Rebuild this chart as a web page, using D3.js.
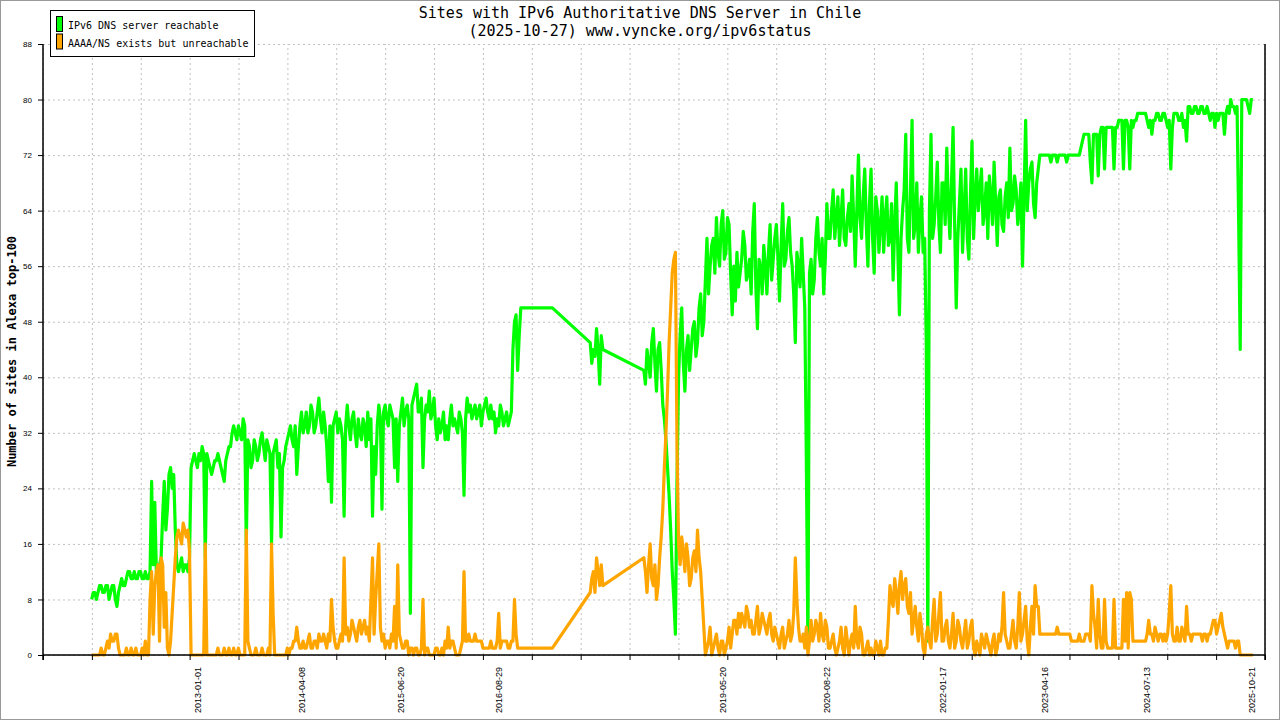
<!DOCTYPE html>
<html>
<head>
<meta charset="utf-8">
<script src="https://cdn.jsdelivr.net/npm/d3@7"></script>
<style>
  body { margin: 0; background: #fff; }
  svg { display: block; }
  .mono { font-family: "DejaVu Sans Mono", "Liberation Mono", monospace; }
  .grid line { stroke: #c0c0c0; stroke-dasharray: 2,3; }
  .grid path { display: none; }
</style>
</head>
<body>
<div id="chart"></div>
<script>
// one sample every 7 days from startDate, null = no measurement (line just joins across)
var startDate = "2011-09-19";
var stepDays = 7;

var reachable = [
  8,9, 9,8, 9,10, 10,9, 9,10, 10,8, 9,10, 10,8, 7,9, 10,11,
  10,10, 11,12, 12,11, 11,12, 11,11, 12,12, 11,11, 12,11, 11,12, 25,13,
  22,12, 11,13, 14,20, 25,18, 21,26, 27,24, 26,18, 13,12, 13,14, 12,13,
  13,12, 14,27, 28,29, 28,27, 29,28, 30,29, 14,29, 28,27, 26,27, 28,28,
  29,28, 27,26, 25,28, 29,30, 30,32, 33,32, 31,33, 32,31, 34,33, 16,31,
  30,27, 28,31, 30,28, 29,31, 32,30, 28,31, 30,29, 16,29, 30,31, 27,29,
  17,27, 28,30, 31,32, 33,31, 30,33, 26,30, 33,35, 32,33, 35,32, 33,36,
  35,32, 33,35, 37,34, 32,35, 33,30, 25,33, 22,33, 34,35, 32,34, 33,31,
  20,33, 36,33, 31,34, 35,32, 30,34, 32,31, 34,33, 30,35, 31,34, 20,30,
  26,33, 36,34, 21,35, 36,34, 33,36, 35,34, 27,34, 25,33, 35,37, 33,35,
  36,34, 6,36, 37,38, 39,35, 35,37, 27,34, 36,35, 38,34, 35,37, 33,31,
  34,32, 33,35, 31,33, 31,34, 36,33, 34,33, 32,35, 34,32, 23,34, 37,35,
  36,34, 35,36, 34,35, 36,33, 35,36, 37,35, 34,36, 34,35, 32,34, 33,36,
  35,33, 34,35, 33,34, 35,44, 48,49, 41,46, 50,null, null,null, null,null, null,null,
  null,null, null,null, null,null, null,null, null,null, null,null, 50,null, null,null, null,null, null,null,
  null,null, null,null, null,null, null,null, null,null, null,null, null,null, null,null, 45,42, 44,43,
  47,44, 39,46, 44,null, null,null, null,null, null,null, null,null, null,null, null,null, null,null,
  null,null, null,null, null,null, null,null, null,null, 41,39, 44,42, 40,45, 47,42, 38,44,
  45,41, 36,34, 31,27, 23,18, 12,8, 3,25, 40,46, 50,42, 38,44, 46,41,
  44,47, 48,43, 45,50, 52,46, 48,54, 60,52, 56,59, 60,55, 63,58, 56,62,
  64,57, 58,63, 62,55, 49,56, 51,58, 53,55, 57,61, 59,54, 55,57, 52,61,
  65,53, 47,57, 56,52, 59,56, 52,58, 62,54, 57,60, 62,57, 51,59, 65,56,
  57,61, 63,58, 56,52, 45,58, 56,53, 60,55, 50,28, 1,55, 57,52, 54,60,
  63,58, 56,60, 52,57, 65,60, 60,64, 67,60, 63,66, 59,63, 67,60, 59,63,
  65,61, 69,63, 56,64, 72,63, 60,66, 70,62, 56,65, 70,60, 55,66, 64,58,
  62,66, 58,63, 66,59, 60,65, 54,62, 68,58, 49,60, 64,67, 75,60, 58,67,
  77,60, 62,68, 58,63, 66,58, 60,45, 2,64, 75,60, 62,66, 71,62, 58,68,
  68,62, 73,65, 60,68, 76,62, 50,60, 65,70, 58,64, 70,60, 57,66, 74,60,
  66,70, 64,67, 70,62, 64,68, 60,69, 66,62, 71,65, 59,66, 67,62, 61,66,
  68,63, 73,64, 65,69, 67,62, 64,68, 56,66, 77,64, 68,70, 71,65, 63,68,
  70,72, 72,72, 72,72, 72,72, 71,72, 72,72, 71,72, 72,72, 72,72, 71,72,
  72,72, 72,72, 72,72, 72,73, 74,75, 75,75, 75,71, 68,75, 75,75, 69,75,
  76,76, 70,76, 76,76, 76,76, 70,76, 76,77, 77,77, 70,77, 77,76, 70,77,
  76,77, 77,78, 78,78, 78,78, 78,77, 76,77, 75,77, 77,78, 78,77, 77,78,
  78,77, 76,77, 70,76, 78,78, 78,77, 77,78, 76,77, 74,79, 79,78, 78,79,
  79,78, 78,79, 79,78, 78,79, 78,77, 78,78, 76,78, 77,78, 78,78, 75,78,
  79,78, 80,79, 79,78, 79,63, 44,80, 80,80, 80,79, 78,80, 80
];

var unreachable = [
  0,0, 0,0, 0,0, 1,0, 0,1, 2,1, 3,2, 2,3, 3,1, 0,0,
  0,0, 1,0, 0,1, 0,0, 1,0, 0,0, 1,0, 2,0, 0,8, 12,3,
  10,12, 13,2, 14,13, 4,9, 1,0, 2,6, 10,14, 17,18, 17,16, 19,18,
  17,18, 15,0, 0,0, 0,0, 0,0, 0,0, 16,0, 0,0, 0,0, 0,0,
  1,0, 0,0, 1,0, 0,1, 0,0, 1,0, 0,1, 0,0, 0,0, 18,2,
  1,0, 0,0, 1,0, 0,0, 1,0, 0,0, 1,0, 16,6, 0,0, 0,0,
  0,0, 0,0, 1,0, 1,1, 2,2, 4,2, 1,1, 2,1, 1,2, 3,1,
  1,2, 2,1, 3,2, 2,3, 2,1, 3,2, 8,4, 2,1, 1,2, 3,2,
  14,3, 4,2, 3,5, 4,3, 2,4, 5,3, 4,5, 3,4, 2,8, 14,3,
  8,12, 16,4, 2,3, 1,2, 2,1, 3,2, 7,1, 13,3, 2,1, 1,2,
  2,0, 1,1, 0,1, 1,0, 0,1, 8,0, 1,1, 0,0, 0,0, 1,1,
  0,0, 1,0, 2,1, 4,1, 2,2, 1,0, 0,0, 1,2, 12,2, 2,3,
  2,2, 2,3, 2,2, 2,2, 1,1, 1,1, 1,2, 1,1, 1,2, 6,1,
  2,2, 2,2, 1,1, 2,2, 8,3, 1,1, 1,null, null,null, null,null, null,null,
  null,null, null,null, null,null, null,null, null,null, null,null, 1,null, null,null, null,null, null,null,
  null,null, null,null, null,null, null,null, null,null, null,null, null,null, null,null, 9,11, 12,9,
  14,12, 10,13, 10,null, null,null, null,null, null,null, null,null, null,null, null,null, null,null,
  null,null, null,null, null,null, null,null, null,null, 14,12, 9,13, 16,11, 10,13, 8,10,
  14,17, 21,27, 32,38, 45,50, 55,57, 58,30, 16,13, 17,15, 12,16, 14,10,
  11,14, 15,12, 18,14, 12,8, 4,0, 1,2, 4,0, 1,2, 3,1, 0,2,
  2,0, 1,2, 4,1, 3,5, 5,3, 6,4, 6,5, 4,7, 6,4, 5,3,
  3,5, 7,3, 4,6, 5,4, 3,5, 6,3, 2,4, 3,2, 1,3, 4,1,
  2,3, 5,2, 3,6, 14,8, 4,2, 2,3, 1,4, 0,2, 5,2, 3,5,
  4,2, 6,3, 2,5, 4,1, 1,2, 3,1, 0,1, 2,4, 1,0, 4,2,
  0,2, 3,1, 7,2, 1,4, 3,0, 0,1, 2,0, 1,0, 0,2, 1,0,
  2,0, 0,1, 1,5, 10,8, 7,11, 9,6, 10,12, 8,10, 11,7, 6,9,
  3,5, 7,4, 2,6, 4,1, 0,3, 4,2, 1,5, 8,2, 3,6, 9,2,
  2,4, 5,2, 1,3, 6,1, 2,5, 4,2, 1,3, 5,1, 2,4, 5,1,
  0,2, 1,0, 3,2, 1,3, 2,1, 0,2, 3,0, 1,3, 2,4, 9,3,
  2,1, 1,3, 5,2, 1,4, 9,2, 3,5, 7,2, 0,4, 7,3, 10,7,
  7,3, 3,3, 3,3, 3,3, 3,3, 3,3, 4,3, 3,3, 3,3, 3,3,
  3,2, 2,2, 2,2, 3,2, 2,2, 3,3, 3,2, 10,6, 4,1, 8,3,
  1,1, 8,2, 1,1, 1,1, 8,1, 1,1, 1,1, 8,2, 9,1, 9,8,
  2,2, 2,2, 2,2, 2,2, 2,3, 5,3, 3,2, 4,3, 2,3, 3,2,
  3,2, 3,6, 10,3, 2,2, 4,2, 2,4, 3,2, 7,3, 3,2, 3,3,
  3,3, 3,3, 2,3, 3,2, 3,3, 4,5, 5,3, 4,5, 6,4, 3,2,
  1,2, 2,2, 2,1, 2,2, 0,0, 0,0, 0,0, 0,0, 0
];

var xLabelDates = ["2013-01-01", "2014-04-08", "2015-06-20", "2016-08-29", "2019-05-20",
                   "2020-08-22", "2022-01-17", "2023-04-16", "2024-07-13", "2025-10-21"];
var xDomain = ["2011-02-15", "2025-12-20"];
var yTicks = [0, 8, 16, 24, 32, 40, 48, 56, 64, 72, 80, 88];

var seriesNames = ["IPv6 DNS server reachable", "AAAA/NS exists but unreachable"];
var colors = ["#00ff00", "#ffa500"];

var titleLines = ["Sites with IPv6 Authoritative DNS Server in Chile",
                  "(2025-10-27) www.vyncke.org/ipv6status"];
var yTitle = "Number of sites in Alexa top-100";

var W = 1280, H = 720;
var plot = {left: 43, right: 1265, top: 44, bottom: 655};

var parse = d3.utcParse("%Y-%m-%d");

var svg = d3.select("#chart").append("svg")
    .attr("width", W)
    .attr("height", H)
    .attr("class", "mono");

svg.append("rect")
    .attr("x", 0.5).attr("y", 0.5)
    .attr("width", W - 1).attr("height", H - 1)
    .attr("fill", "#fff")
    .attr("stroke", "#999");

var x = d3.scaleUtc()
    .domain(xDomain.map(parse))
    .range([plot.left, plot.right]);

var y = d3.scaleLinear()
    .domain([0, 88])
    .range([plot.bottom, plot.top]);

// plain ticks: domain cut in 25 equal steps
var d0 = x.domain()[0], d1 = x.domain()[1];
var plainTicks = d3.range(26).map(function(k) { return new Date(+d0 + k * (d1 - d0) / 25); });

// grid
svg.append("g")
    .attr("class", "grid")
    .attr("transform", "translate(0," + plot.bottom + ")")
    .call(d3.axisBottom(x).tickValues(plainTicks).tickFormat("")
        .tickSizeInner(-(plot.bottom - plot.top)).tickSizeOuter(0));

svg.append("g")
    .attr("class", "grid")
    .attr("transform", "translate(" + plot.left + ",0)")
    .call(d3.axisLeft(y).tickValues(yTicks).tickFormat("")
        .tickSizeInner(-(plot.right - plot.left)).tickSizeOuter(0));

// data
function toPoints(values) {
    var start = parse(startDate);
    return values
        .map(function(v, i) { return {date: d3.utcDay.offset(start, i * stepDays), v: v}; })
        .filter(function(d) { return d.v !== null; });
}

var line_gen = d3.line()
    .x(function(d) { return x(d.date); })
    .y(function(d) { return y(d.v); });

[reachable, unreachable].forEach(function(values, i) {
    svg.append("path")
        .attr("d", line_gen(toPoints(values)))
        .attr("fill", "none")
        .attr("stroke", colors[i])
        .attr("stroke-width", 3.2)
        .attr("stroke-linejoin", "round");
});

// axes
var yAxis = svg.append("g")
    .attr("transform", "translate(" + plot.left + ",0)")
    .call(d3.axisLeft(y).tickValues(yTicks).tickSizeInner(5).tickSizeOuter(0).tickPadding(6));
yAxis.select(".domain").remove();
yAxis.selectAll("text").attr("font-size", 8).attr("font-family", null);
yAxis.selectAll("line").attr("stroke", "#000");

var xAxis = svg.append("g")
    .attr("transform", "translate(0," + plot.bottom + ")")
    .call(d3.axisBottom(x).tickValues(plainTicks).tickFormat("").tickSizeInner(5).tickSizeOuter(0));
xAxis.select(".domain").remove();

var xLabels = svg.append("g")
    .attr("transform", "translate(0," + plot.bottom + ")")
    .call(d3.axisBottom(x).tickValues(xLabelDates.map(parse)).tickSize(0)
        .tickFormat(d3.utcFormat("%Y-%m-%d")));
xLabels.select(".domain").remove();
xLabels.selectAll("text")
    .attr("font-size", 9)
    .attr("font-family", null)
    .attr("text-anchor", "end")
    .attr("dy", "0.35em")
    .attr("y", 0)
    .attr("transform", "translate(0,12) rotate(-90)");

// frame: left, bottom, right
svg.append("path")
    .attr("d", "M" + plot.left + "," + plot.top + "V" + (plot.bottom + 5)
        + "M" + plot.left + "," + plot.bottom + "H" + plot.right
        + "M" + plot.right + "," + plot.top + "V" + (plot.bottom + 5))
    .attr("fill", "none")
    .attr("stroke", "#000")
    .attr("stroke-width", 1.5);

// titles
svg.selectAll(".title")
    .data(titleLines)
    .enter().append("text")
    .attr("class", "title")
    .attr("x", W / 2)
    .attr("y", function(d, i) { return 18 + i * 18; })
    .attr("text-anchor", "middle")
    .attr("font-size", 15)
    .text(function(d) { return d; });

svg.append("text")
    .attr("transform", "translate(16," + ((plot.top + plot.bottom) / 2 + 2) + ") rotate(-90)")
    .attr("text-anchor", "middle")
    .attr("font-size", 12)
    .attr("font-weight", "bold")
    .text(yTitle);

// legend
var legend = svg.append("g");
legend.append("rect")
    .attr("x", 50.5).attr("y", 10.5)
    .attr("width", 204).attr("height", 46)
    .attr("fill", "#fff")
    .attr("stroke", "#000");

var entry = legend.selectAll(".entry")
    .data(seriesNames)
    .enter().append("g")
    .attr("transform", function(d, i) { return "translate(0," + (i * 17.5) + ")"; });

entry.append("rect")
    .attr("x", 56.5).attr("y", 16.5)
    .attr("width", 6).attr("height", 15)
    .attr("fill", function(d, i) { return colors[i]; })
    .attr("stroke", "#000");

entry.append("text")
    .attr("x", 68).attr("y", 29)
    .attr("font-size", 10)
    .text(function(d) { return d; });
</script>
</body>
</html>
